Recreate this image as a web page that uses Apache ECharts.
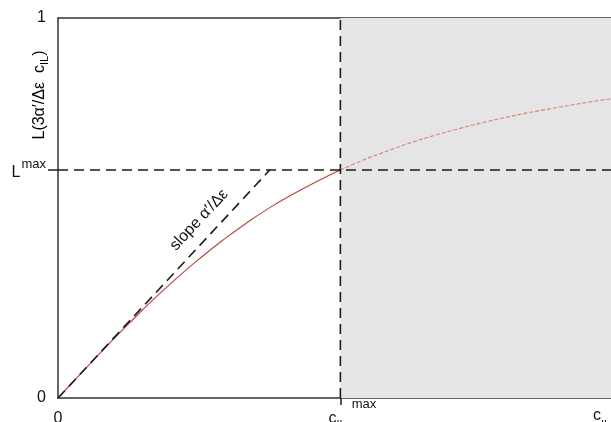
<!DOCTYPE html>
<html>
<head>
<meta charset="utf-8">
<script src="https://cdn.jsdelivr.net/npm/echarts@6/dist/echarts.min.js"></script>
<style>
html,body{margin:0;padding:0;background:#fff;}
#chart{width:611px;height:422px;}
</style>
</head>
<body>
<div id="chart"></div>
<script>
// ---- data ----
const xMax = 4.7;          // right edge of the plot (c_IL)
const cMax = 2.4;          // c_IL^max
const LMax = 0.6;          // L^max
const curveX = [0, 0.2, 0.4, 0.6, 0.8, 1.0, 1.2, 1.4, 1.6, 1.8, 2.0, 2.2, 2.4, 2.6, 2.8, 3.0, 3.2, 3.4, 3.6, 3.8, 4.0, 4.2, 4.4, 4.6, 4.7];
const curveY = [0, 0.066, 0.132, 0.195, 0.256, 0.313, 0.366, 0.415, 0.460, 0.501, 0.537, 0.570, 0.600, 0.627, 0.650, 0.672, 0.691, 0.708, 0.724, 0.738, 0.751, 0.762, 0.773, 0.783, 0.787];
const slopeX = [0, 1.8];
const slopeY = [0, 0.6];
const xTickValues = [0, 2.4, 4.62];
const xTickLabels = ['0', 'c_IL^max', 'c_IL'];
const yTickValues = [0, 0.6, 1];
const yTickLabels = ['0', 'L^max', '1'];

const solid = [], dashed = [];
curveX.forEach((x, i) => {
  if (x <= cMax) solid.push([x, curveY[i]]);
  if (x >= cMax) dashed.push([x, curveY[i]]);
});
const slope = slopeX.map((x, i) => [x, slopeY[i]]);

function xFmt(v) {
  const i = xTickValues.findIndex(t => Math.abs(t - v) < 1e-6);
  if (i < 0) return '';
  const s = xTickLabels[i];
  if (s === 'c_IL^max') return '{pad|}{cm|c}{cmsub|IL}{xsup|max}';
  if (s === 'c_IL') return '{cr|c}{crsub|IL}';
  return '{x0|' + s + '}';
}
function yFmt(v) {
  const i = yTickValues.findIndex(t => Math.abs(t - v) < 1e-6);
  if (i < 0) return '';
  const s = yTickLabels[i];
  if (s === 'L^max') return '{yL|L}{ysup|max}';
  return '{b|' + s + '}';
}
const FONT = 'Liberation Sans, Arial, sans-serif';
const C = '#111';
const rich = {
  b: {fontSize: 16, fontFamily: FONT, color: C, lineHeight: 16},
  x0: {fontSize: 16, fontFamily: FONT, color: C, lineHeight: 41, verticalAlign: 'middle'},
  cm: {fontSize: 16, fontFamily: FONT, color: C, lineHeight: 42, verticalAlign: 'middle'},
  cmsub: {fontSize: 11, fontFamily: FONT, color: C, lineHeight: 11, verticalAlign: 'bottom', padding: [0, 0, 10, 0]},
  xsup: {fontSize: 13, fontFamily: FONT, color: C, lineHeight: 13, verticalAlign: 'top', padding: [0, 0, 0, 6]},
  cr: {fontSize: 16, fontFamily: FONT, color: C, lineHeight: 35, verticalAlign: 'middle'},
  crsub: {fontSize: 11, fontFamily: FONT, color: C, lineHeight: 11, verticalAlign: 'bottom', padding: [0, 0, 3, 0]},
  yL: {fontSize: 16, fontFamily: FONT, color: C, lineHeight: 25, verticalAlign: 'bottom', padding: [0, 0, 2, 0]},
  ysup: {fontSize: 13, fontFamily: FONT, color: C, lineHeight: 13, verticalAlign: 'top', padding: [0, 0, 0, 1]},
  tsub: {fontSize: 11, fontFamily: FONT, color: C, lineHeight: 11, verticalAlign: 'bottom'},
  tb: {fontSize: 16, fontFamily: FONT, color: C, lineHeight: 20, verticalAlign: 'middle'},
  pad: {width: 24}
};

const chart = echarts.init(document.getElementById('chart'));
const dashStyle = {color: '#1a1a1a', width: 1.6, type: [10, 6]};
chart.setOption({
  animation: false,
  grid: {left: 58, right: 0, top: 18, bottom: 24, outerBoundsMode: 'none', containLabel: false},
  xAxis: [{
    type: 'value', min: 0, max: xMax,
    splitLine: {show: false},
    axisLine: {lineStyle: {color: '#333', width: 1.5}},
    axisTick: {show: true, customValues: [cMax], length: 7, lineStyle: {color: '#222', width: 1.5}},
    axisLabel: {customValues: xTickValues, formatter: xFmt, rich: rich, margin: 0, showMinLabel: true, showMaxLabel: true, hideOverlap: false}
  }, {
    type: 'value', min: 0, max: xMax, position: 'top',
    splitLine: {show: false},
    axisLine: {lineStyle: {color: '#333', width: 1.5}},
    axisTick: {show: false}, axisLabel: {show: false}
  }],
  yAxis: {
    type: 'value', min: 0, max: 1,
    splitLine: {show: false},
    axisLine: {lineStyle: {color: '#333', width: 1.5}},
    axisTick: {show: true, customValues: [LMax], length: 10, lineStyle: {color: '#222', width: 1.5}},
    axisLabel: {customValues: yTickValues, formatter: yFmt, rich: rich, margin: 12, showMinLabel: true, showMaxLabel: true, hideOverlap: false}
  },
  series: [
    {
      type: 'line', data: [], silent: true,
      markArea: {silent: true, itemStyle: {color: '#e5e5e5'},
        data: [[{coord: [cMax, 0]}, {coord: [xMax, 1]}]]}
    },
    {type: 'line', data: solid, showSymbol: false, smooth: true, lineStyle: {color: '#d63b2c', width: 1.1}, z: 3},
    {type: 'line', data: dashed, showSymbol: false, smooth: true, lineStyle: {color: '#e0806f', width: 1.1, type: [4, 2]}, z: 3},
    {type: 'line', data: slope, showSymbol: false, lineStyle: dashStyle, z: 4},
    {type: 'line', data: [[0, LMax], [xMax, LMax]], showSymbol: false, lineStyle: dashStyle, z: 4},
    {type: 'line', data: [[cMax, 0], [cMax, 1]], showSymbol: false, lineStyle: dashStyle, z: 4}
  ],
  graphic: [
    {
      type: 'text', x: 40, y: 95, rotation: Math.PI / 2,
      style: {
        text: "{tb|L(3α′/Δε  c}{tsub|IL}{tb|)}", align: 'center', verticalAlign: 'middle',
        rich: rich
      }
    },
    {
      type: 'text', x: 199, y: 220, rotation: 47 * Math.PI / 180,
      style: {text: 'slope α′/Δε', font: '16px ' + FONT, fill: C, align: 'center', verticalAlign: 'middle'}
    },
    {
      type: 'text', x: 447, y: 209,
      style: {text: 'not accessible', font: '16px ' + FONT, fill: C, align: 'center', verticalAlign: 'middle'}
    }
  ]
});
</script>
</body>
</html>
